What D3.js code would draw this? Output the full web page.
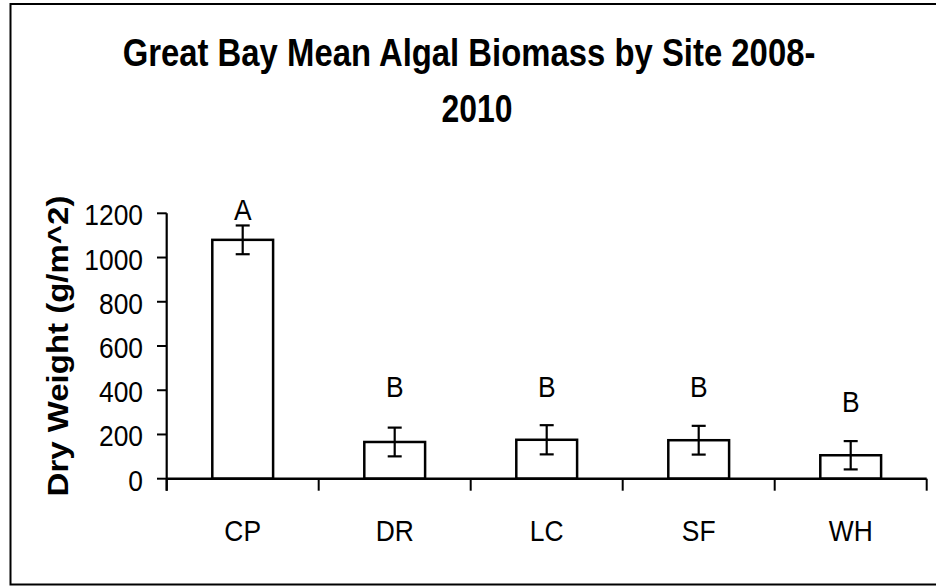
<!DOCTYPE html>
<html>
<head>
<meta charset="utf-8">
<script src="https://cdn.jsdelivr.net/npm/d3@7"></script>
<style>
  html, body { margin: 0; padding: 0; background: #fff; }
  svg { display: block; font-family: "Liberation Sans", Arial, sans-serif; }
</style>
</head>
<body>
<svg id="chart" width="936" height="586"></svg>
<script>
// data
const sites = ["CP", "DR", "LC", "SF", "WH"];
const means = [1080, 166, 176, 174, 106];
const errs = [65, 65, 66, 65, 64];
const letters = ["A", "B", "B", "B", "B"];
const letterAt = [1170, 370, 370, 370, 300];   // label baseline, in y units
const yTicks = [0, 200, 400, 600, 800, 1000, 1200];

const svg = d3.select("#chart");

// helper: text squeezed horizontally around its anchor point
function squish(sel, x, y, sx, rot) {
    return sel.attr("transform", `translate(${x},${y}) scale(${sx},1)` + (rot ? ` rotate(${rot})` : ""));
}

// outer frame
svg.append("rect")
    .attr("x", 10.5).attr("y", 4)
    .attr("width", 940).attr("height", 580.5)
    .attr("fill", "none").attr("stroke", "#000").attr("stroke-width", 2);

const x = d3.scaleBand()
    .domain(sites)
    .range([166.7, 926.7])
    .paddingInner(0.6)
    .paddingOuter(0.3);

const y = d3.scaleLinear()
    .domain([0, 1200])
    .range([478.7, 213.3]);

// title
squish(svg.append("text"), 469, 66, 0.865)
    .attr("text-anchor", "middle")
    .attr("font-size", 38).attr("font-weight", "bold")
    .text("Great Bay Mean Algal Biomass by Site 2008-");
squish(svg.append("text"), 477, 121.5, 0.84)
    .attr("text-anchor", "middle")
    .attr("font-size", 38).attr("font-weight", "bold")
    .text("2010");

// y axis title
squish(svg.append("text"), 68, 346, 0.92, -90)
    .attr("text-anchor", "middle")
    .attr("font-size", 33).attr("font-weight", "bold")
    .text("Dry Weight (g/m^2)");

// bars
svg.append("g").selectAll("rect")
    .data(sites)
    .enter().append("rect")
    .attr("x", d => x(d))
    .attr("y", (d, i) => y(means[i]))
    .attr("width", x.bandwidth())
    .attr("height", (d, i) => y(0) - y(means[i]))
    .attr("fill", "#fff")
    .attr("stroke", "#000")
    .attr("stroke-width", 2.5);

// error bars
const eb = svg.append("g").attr("stroke", "#000").attr("stroke-width", 2.2);
sites.forEach((s, i) => {
    const cx = x(s) + x.bandwidth() / 2;
    const top = y(means[i] + errs[i]), bot = y(means[i] - errs[i]);
    eb.append("line").attr("x1", cx).attr("x2", cx).attr("y1", top).attr("y2", bot);
    eb.append("line").attr("x1", cx - 7).attr("x2", cx + 7).attr("y1", top).attr("y2", top);
    eb.append("line").attr("x1", cx - 7).attr("x2", cx + 7).attr("y1", bot).attr("y2", bot);
});

// significance letters
sites.forEach((s, i) => {
    squish(svg.append("text"), x(s) + x.bandwidth() / 2, y(letterAt[i]), 0.88)
        .attr("text-anchor", "middle")
        .attr("font-size", 30)
        .text(letters[i]);
});

// y axis
const yAxis = svg.append("g");
yAxis.append("line")
    .attr("x1", 166.7).attr("x2", 166.7)
    .attr("y1", y(1200)).attr("y2", y(0) + 12)
    .attr("stroke", "#000").attr("stroke-width", 2.2);
yTicks.forEach(t => {
    yAxis.append("line")
        .attr("x1", 157).attr("x2", 166.7)
        .attr("y1", y(t)).attr("y2", y(t))
        .attr("stroke", "#000").attr("stroke-width", 2);
    squish(yAxis.append("text"), 143, y(t) + 12, 0.88)
        .attr("text-anchor", "end")
        .attr("font-size", 30)
        .text(t);
});

// x axis
const xAxis = svg.append("g");
xAxis.append("line")
    .attr("x1", 166.7).attr("x2", 926.7)
    .attr("y1", y(0)).attr("y2", y(0))
    .attr("stroke", "#000").attr("stroke-width", 2.5);
const edges = sites.map(s => x(s) - x.step() * 0.3).concat([926.7]);
edges.forEach(e => {
    xAxis.append("line")
        .attr("x1", e).attr("x2", e)
        .attr("y1", y(0)).attr("y2", y(0) + 12)
        .attr("stroke", "#000").attr("stroke-width", 2);
});
sites.forEach(s => {
    squish(xAxis.append("text"), x(s) + x.bandwidth() / 2, 541, 0.88)
        .attr("text-anchor", "middle")
        .attr("font-size", 30)
        .text(s);
});
</script>
</body>
</html>
